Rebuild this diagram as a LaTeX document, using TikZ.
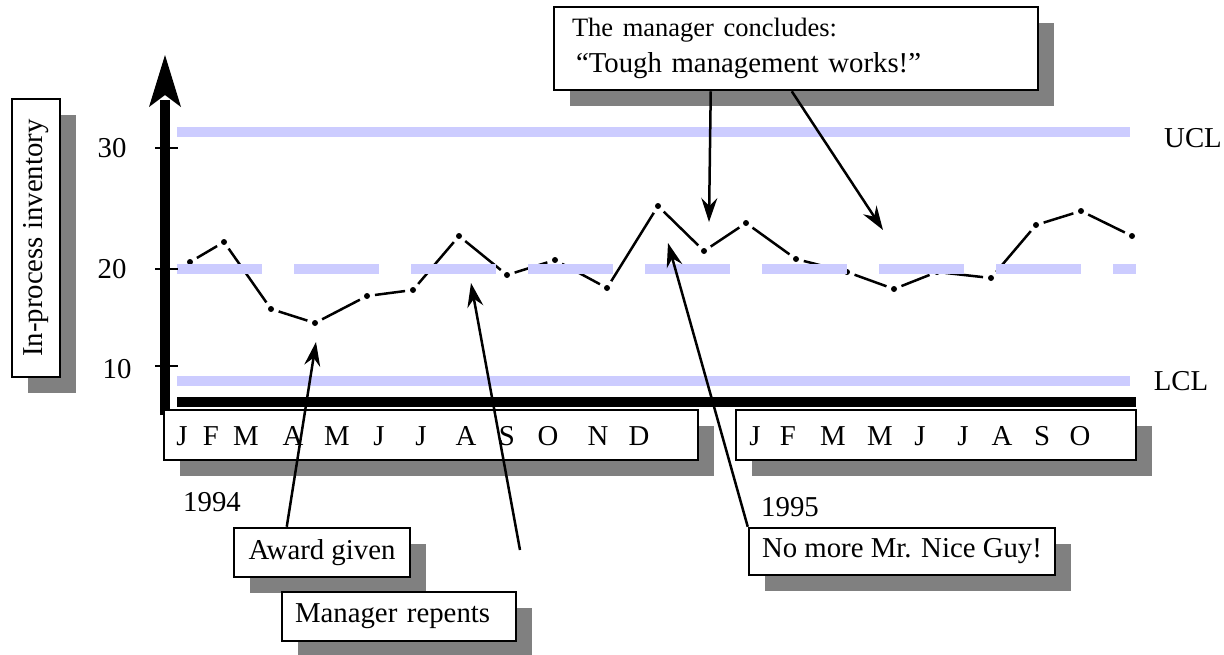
\documentclass[tikz,border=0pt]{standalone}
\usepackage{fontspec}
\setmainfont{Liberation Serif}
\usepackage{graphicx}
\usetikzlibrary{arrows.meta,shadows}
\definecolor{ctlblue}{HTML}{CCCCFF}
\definecolor{shadegray}{HTML}{808080}

\begin{document}
\begin{tikzpicture}[x=1pt,y=-1pt,
  every node/.style={font=\fontsize{28.8}{36}\selectfont},
  note/.style={draw=black, line width=2.5pt, fill=white, inner ysep=0pt,
    drop shadow={shadow xshift=16pt, shadow yshift=-16pt, fill=shadegray, opacity=1}},
  limitline/.style={ctlblue, line width=10pt},
  callout/.style={-{Stealth[length=24pt,width=16pt,inset=8pt]}, line width=2.5pt},
  trend/.style={line width=2.5pt, shorten <=8pt, shorten >=8pt},
  axisbar/.style={line width=10pt},
  tick/.style={line width=2.5pt}
]
\useasboundingbox (0,0) rectangle (1224,654);

% monthly inventory readings
\foreach \i/\x/\y in {1/190/262, 2/224/242, 3/271/309, 4/315/323, 5/367/296,
  6/413/290, 7/459/236, 8/507/275, 9/555/260, 10/607/288, 11/658/206,
  12/704/251, 13/746/223, 14/796/259, 15/847/272, 16/894/289, 17/937/272,
  18/991/278, 19/1036/225, 20/1081/211, 21/1132/236}
  \coordinate (d\i) at (\x,\y);
\foreach \i [evaluate=\i as \j using int(\i+1)] in {1,...,20}
  \draw[trend] (d\i) -- (d\j);
\foreach \i in {1,...,21}
  \fill (d\i) circle (3pt);

% control limits and centre line
\draw[limitline] (177,132) -- (1130,132);
\draw[limitline, dash pattern=on 85pt off 32pt] (177,269) -- (1136,269);
\draw[limitline] (177,381) -- (1130,381);
\node (ucl) at (1193,138) {UCL};
\node (lcl) at (1181,381) {LCL};

% axes
\draw[axisbar] (165,415) -- (165,100);
\fill (165,55) -- (181,107) -- (165,95) -- (149,107) -- cycle;
\draw[axisbar] (177,402) -- (1136,402);
\foreach \y in {148,269,366}
  \draw[tick] (155,\y) -- (178,\y);
\node (y30) at (112,148) {30};
\node (y20) at (112,269) {20};
\node (y10) at (117,369) {10};

% axis title
\node[note, inner sep=0pt, minimum width=48pt, minimum height=278pt] (ylab) at (36,238)
  {\rotatebox{90}{In-process inventory}};

% month strips
\node[note, minimum width=534pt, minimum height=50pt] (yr94) at (431,435) {};
\node[note, minimum width=400pt, minimum height=50pt] (yr95) at (936,435) {};
\foreach \i/\x/\m in {1/182/J, 2/211/F, 3/246/M, 4/293/A, 5/337/M, 6/379/J,
  7/421/J, 8/466/A, 9/507/S, 10/548/O, 11/598/N, 12/639/D}
  \node (ma\i) at (\x,436) {\m};
\foreach \i/\x/\m in {1/755/J, 2/788/F, 3/833/M, 4/880/M, 5/920/J, 6/963/J,
  7/1002/A, 8/1042/S, 9/1080/O}
  \node (mb\i) at (\x,436) {\m};
\node (y94) at (212,502) {1994};
\node (y95) at (790,507) {1995};

% annotations
\node[note, inner xsep=0pt, minimum width=176pt, minimum height=49pt]
  (award) at (322,552.5) {Award given};
\node[note, text width=208pt, inner xsep=13pt, align=left, minimum height=49pt]
  (repent) at (399,616.5) {Manager repents};
\node[note, inner xsep=0pt, minimum width=306pt, minimum height=47pt]
  (nice) at (902,551.5) {No more Mr. Nice Guy!};
\node[note, text width=448pt, inner xsep=18pt, align=left, minimum height=83pt]
  (concl) at (796,48.5)
  {{\fontsize{26.5}{36}\selectfont The manager concludes:}\\\hspace*{4pt}“Tough management works!”};

% callout arrows
\coordinate (awardtip) at (316,342);
\coordinate (repentfoot) at (520,550);
\coordinate (repenttip) at (471,283);
\coordinate (nicetip) at (668,243);
\coordinate (dipA) at (709,222);
\coordinate (dipB) at (883,230);
\draw[callout] ([xshift=54pt]award.north west) -- (awardtip);
\draw[callout] (repentfoot) -- (repenttip);
\draw[callout] (nice.north west) -- (nicetip);
\draw[callout] ([xshift=158pt]concl.south west) -- (dipA);
\draw[callout] ([xshift=239pt]concl.south west) -- (dipB);
\end{tikzpicture}
\end{document}
